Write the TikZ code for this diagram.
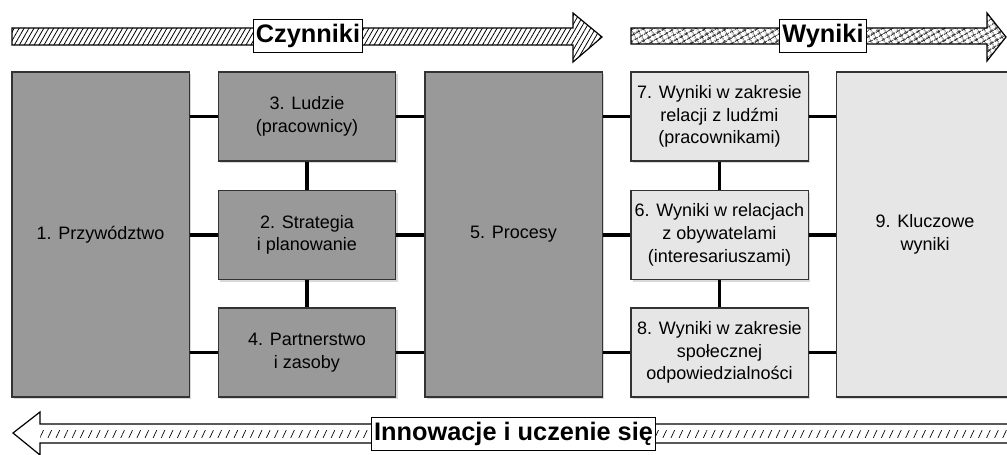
\documentclass[tikz,border=0pt]{standalone}
\usepackage{fontspec}
\setmainfont{Liberation Sans}
\usetikzlibrary{shadows,patterns.meta}
\definecolor{szary}{HTML}{999999}
\definecolor{jasnoszary}{HTML}{E6E6E6}
\definecolor{ramka}{HTML}{333333}
\tikzstyle{blok}=[rectangle, draw=ramka, line width=1pt, align=center, inner sep=2pt,
  minimum width=133pt, font=\fontsize{13.5}{17}\selectfont,
  drop shadow={shadow xshift=1.5pt, shadow yshift=-1.5pt, opacity=0.3}]
\tikzstyle{wysoki}=[minimum height=243.75pt]
\tikzstyle{niski}=[minimum height=66.75pt]
\tikzstyle{etykieta}=[rectangle, draw, fill=white, line width=0.8pt, inner xsep=2pt,
  inner ysep=0pt, minimum height=25pt, font=\bfseries\fontsize{19}{22}\selectfont]
\newcommand{\blok}{\node[blok]}

\begin{document}
\begin{tikzpicture}[x=0.75pt, y=-0.75pt
  ,every edge/.style={draw, black, line width=2.4pt}
]
\useasboundingbox (0,0) rectangle (1007,454);
% strzalki
\draw[line width=0.9pt, pattern={Lines[angle=60,distance=3.2pt,line width=0.6pt]}]
  (12,28) -- (573,28) -- (573,13) -- (602,37) -- (573,62) -- (573,45) -- (12,45) -- cycle;
\draw[line width=0.9pt, pattern={Hatch[angle=30,distance=4pt,line width=0.6pt]}]
  (631,28) -- (987,28) -- (987,13) -- (1006,37) -- (987,61) -- (987,44) -- (631,44) -- cycle;
\draw[line width=0.9pt, fill=white]
  (1015,424) -- (40,424) -- (40,412) -- (13,433) -- (40,455) -- (40,443) -- (1015,443);
\path[pattern={Lines[angle=65,distance=5.5pt,line width=0.5pt]}] (40,430) rectangle (1010,437);
\node[etykieta] (czynniki) at (308,36) {Czynniki};
\node[etykieta] (wyniki) at (823,36) {Wyniki};
\node[etykieta] (innowacje) at (513.5,434) {Innowacje i uczenie się};
% bloki
\blok (p1) at (100.5,234.5) [fill=szary, wysoki] {1. Przywództwo};
\blok (l3) at (307,116.5) [fill=szary, niski] {3. Ludzie\\(pracownicy)};
\blok (s2) at (307,235) [fill=szary, niski] {2. Strategia\\i planowanie};
\blok (p4) at (307,352.5) [fill=szary, niski] {4. Partnerstwo\\i zasoby};
\blok (p5) at (513.5,234.5) [fill=szary, wysoki] {5. Procesy};
\blok (w7) at (719.5,116.5) [fill=jasnoszary, niski] {7. Wyniki w zakresie\\relacji z ludźmi\\(pracownikami)};
\blok (w6) at (719.5,235) [fill=jasnoszary, niski] {6. Wyniki w relacjach\\z obywatelami\\(interesariuszami)};
\blok (w8) at (719.5,352.5) [fill=jasnoszary, niski] {8. Wyniki w zakresie\\społecznej\\odpowiedzialności};
\blok (k9) at (925,234.5) [fill=jasnoszary, wysoki] {9. Kluczowe\\wyniki};
\path
(p1.east |- l3) edge (l3)
(p1.east |- s2) edge (s2)
(p1.east |- p4) edge (p4)
(l3) edge (s2)
(s2) edge (p4)
(l3) edge (l3 -| p5.west)
(s2) edge (s2 -| p5.west)
(p4) edge (p4 -| p5.west)
(p5.east |- w7) edge (w7)
(p5.east |- w6) edge (w6)
(p5.east |- w8) edge (w8)
(w7) edge (w6)
(w6) edge (w8)
(w7) edge (w7 -| k9.west)
(w6) edge (w6 -| k9.west)
(w8) edge (w8 -| k9.west)
;
\end{tikzpicture}
\end{document}
